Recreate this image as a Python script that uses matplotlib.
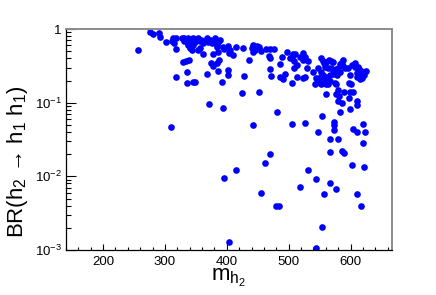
import matplotlib
matplotlib.use('Agg')
import matplotlib.pyplot as plt
from matplotlib.ticker import FixedLocator, LogLocator, NullFormatter, MultipleLocator

# m_h2 values (GeV) and BR(h2 -> h1 h1)
mh2 = [
    257, 275, 280, 291, 292.5, 301, 311, 312.5, 318, 317.5, 315, 328, 331, 330,
    335, 338, 340.5, 343, 338, 343, 346, 348.5, 351, 354, 356.7, 359, 362, 365,
    367.5, 370, 373, 375.5, 381, 383.5, 386, 354, 356.7, 361, 346, 377, 378,
    384.5, 386, 328.7, 334, 338.4, 317.5, 336, 336, 345, 348.6, 367.5, 374, 389,
    383.6, 385, 383.6, 387, 394, 396, 402, 405, 410, 403.5, 414, 426.6, 436,
    440, 442.7, 445.5, 448, 452, 441.6, 454.7, 464, 469.7, 476.6, 468.6, 469.7,
    402, 401.4, 391.7, 428, 469.7, 471.3, 485.9, 488.6, 496.7, 502, 504.7, 507.3,
    510, 509, 512.8, 518, 486, 494, 491, 508, 512.8, 523.5, 526, 523.5, 523.5,
    530.7, 529.6, 526, 551.6, 554.8, 557, 560, 565.5, 569, 572, 558.5, 564,
    567.7, 571, 576.3, 580, 585.5, 588, 587, 590.8, 596, 601.6, 607, 612, 616,
    620, 614, 618, 610, 599, 548, 553, 556, 544, 549, 553, 561, 566.6, 572,
    577.4, 582.8, 558.5, 566.6, 574.7, 597.8, 540, 607, 612.7, 624.5, 622.4,
    615.5, 610, 582.8, 504.7, 451.5, 542.4, 547.7, 552, 555.8, 559.6, 563.9,
    576.3, 600, 560, 577, 581, 579, 579, 586.5, 589.7, 599, 604, 597.3, 610.7,
    610.7, 599, 583, 481.5, 554, 505.7, 526.7, 573.5, 573.5, 573, 546.7, 604,
    610.7, 620.4, 623, 566.8, 580.4, 620.6, 469.7, 461.6, 567, 586.5, 589.2,
    602, 622, 531.6, 443, 425, 371.7, 394.3, 309.8, 414.3, 394.6, 455, 479,
    484.7, 518.7, 544, 557, 567, 576.3, 554, 544, 404, 611, 617.5,
]
br = [
    0.527, 0.91, 0.855, 0.874, 0.778, 0.673, 0.687, 0.748, 0.762, 0.53, 0.64,
    0.748, 0.687, 0.762, 0.673, 0.607, 0.547, 0.519, 0.748, 0.71, 0.762, 0.673,
    0.71, 0.748, 0.687, 0.71, 0.64, 0.687, 0.748, 0.673, 0.71, 0.64, 0.748,
    0.607, 0.673, 0.519, 0.547, 0.454, 0.607, 0.454, 0.318, 0.342, 0.27, 0.36,
    0.368, 0.383, 0.225, 0.258, 0.183, 0.189, 0.189, 0.243, 0.343, 0.709, 0.66,
    0.492, 0.575, 0.38, 0.575, 0.535, 0.593, 0.519, 0.444, 0.468, 0.575, 0.557,
    0.38, 0.547, 0.607, 0.519, 0.593, 0.575, 0.492, 0.508, 0.535, 0.535, 0.535,
    0.434, 0.4, 0.278, 0.238, 0.193, 0.232, 0.287, 0.23, 0.332, 0.421, 0.492,
    0.4, 0.421, 0.454, 0.454, 0.368, 0.325, 0.421, 0.225, 0.243, 0.21, 0.293,
    0.225, 0.38, 0.421, 0.218, 0.468, 0.368, 0.298, 0.225, 0.4, 0.368, 0.342,
    0.36, 0.38, 0.368, 0.353, 0.308, 0.298, 0.293, 0.278, 0.287, 0.293, 0.353,
    0.38, 0.318, 0.293, 0.298, 0.325, 0.308, 0.293, 0.278, 0.264, 0.238, 0.218,
    0.225, 0.238, 0.293, 0.264, 0.238, 0.218, 0.214, 0.225, 0.225, 0.238, 0.243,
    0.238, 0.264, 0.193, 0.197, 0.183, 0.183, 0.264, 0.342, 0.308, 0.27, 0.238,
    0.208, 0.255, 0.335, 0.187, 0.141, 0.178, 0.193, 0.178, 0.183, 0.179, 0.179,
    0.18, 0.179, 0.13, 0.13, 0.124, 0.149, 0.106, 0.1, 0.141, 0.141, 0.141,
    0.115, 0.106, 0.093, 0.081, 0.074, 0.074, 0.066, 0.051, 0.0536, 0.0552,
    0.0498, 0.0426, 0.0404, 0.044, 0.0397, 0.0519, 0.0397, 0.0325, 0.0318,
    0.0281, 0.02, 0.0153, 0.0214, 0.0223, 0.021, 0.0144, 0.0135, 0.0122, 0.05,
    0.134, 0.095, 0.0855, 0.0472, 0.0122, 0.0096, 0.006, 0.0039, 0.0039, 0.0071,
    0.0091, 0.0057, 0.0082, 0.00674, 0.00208, 0.00108, 0.00127, 0.0058, 0.0039,
]

x_range = (140, 667)
y_range = (1e-3, 1.0)
x_ticks = [200, 300, 400, 500, 600]
y_ticks = [1e-3, 1e-2, 1e-1, 1.0]
y_ticklabels = ['$10^{-3}$', '$10^{-2}$', '$10^{-1}$', '1']


def make_plot():
    plt.rcParams['font.family'] = ['Liberation Sans', 'DejaVu Sans']
    plt.rcParams['mathtext.default'] = 'regular'

    fig = plt.figure(figsize=(4.36, 2.95), dpi=100)
    ax = fig.add_axes([0.1514, 0.1525, 0.7477, 0.749])

    ax.plot(mh2, br, 'o', color='#0000ff', markersize=4.8, markeredgewidth=0)

    ax.set_yscale('log')
    ax.set_xlim(*x_range)
    ax.set_ylim(*y_range)

    ax.xaxis.set_major_locator(FixedLocator(x_ticks))
    ax.xaxis.set_minor_locator(MultipleLocator(20))
    ax.yaxis.set_major_locator(FixedLocator(y_ticks))
    ax.set_yticklabels(y_ticklabels)
    ax.yaxis.set_minor_locator(LogLocator(base=10, subs=range(2, 10)))
    ax.yaxis.set_minor_formatter(NullFormatter())

    ax.tick_params(axis='both', which='both', direction='in', top=False,
                   right=False, labelsize=9.5, color='black', width=0.8)
    ax.tick_params(axis='x', which='major', length=4.5, pad=4)
    ax.tick_params(axis='x', which='minor', length=2.3)
    ax.tick_params(axis='y', which='major', length=7, pad=3)
    ax.tick_params(axis='y', which='minor', length=3.6)

    for side in ('top', 'right'):
        ax.spines[side].set_color('#8c8c8c')
        ax.spines[side].set_linewidth(1.4)
    for side in ('left', 'bottom'):
        ax.spines[side].set_color('black')
        ax.spines[side].set_linewidth(0.9)

    ax.set_xlabel('m$_{h_2}$', fontsize=16)
    ax.xaxis.set_label_coords(0.5, -0.075)
    ax.xaxis.label.set_va('top')
    ax.set_ylabel('BR(h$_2$ \u2192 h$_1$ h$_1$)', fontsize=16)
    ax.yaxis.set_label_coords(-0.11, 0.398)

    fig.savefig('out.png', dpi=100)


if __name__ == '__main__':
    make_plot()
